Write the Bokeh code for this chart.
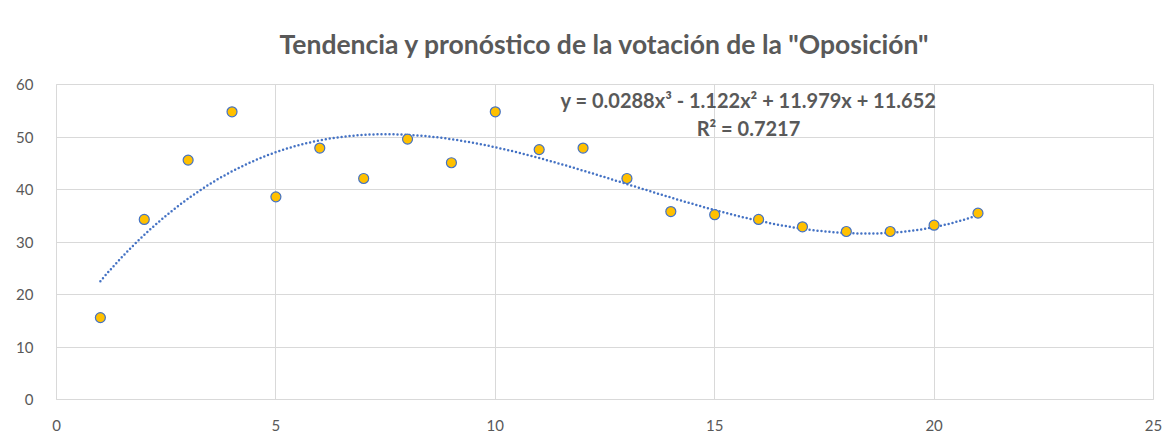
import numpy as np
from bokeh.plotting import figure
from bokeh.models import Range1d, Label, FixedTicker
from bokeh.embed import file_html
from bokeh.resources import INLINE

# ---- data ----
x_vals = [1, 2, 3, 4, 5, 6, 7, 8, 9, 10, 11, 12, 13, 14, 15, 16, 17, 18, 19, 20, 21]
y_vals = [15.6, 34.3, 45.6, 54.8, 38.6, 47.9, 42.1, 49.6, 45.1, 54.8, 47.6,
          47.9, 42.1, 35.8, 35.2, 34.3, 32.9, 32.0, 32.0, 33.2, 35.5]
trend_coef = [0.0288, -1.122, 11.979, 11.652]   # cubic trendline (Excel)
title_text = 'Tendencia y pronóstico de la votación de la "Oposición"'
eq_text = "y = 0.0288x³ - 1.122x² + 11.979x + 11.652"
r2_text = "R² = 0.7217"
x_ticks = [0, 5, 10, 15, 20, 25]
y_ticks = [0, 10, 20, 30, 40, 50, 60]

GRID = "#D9D9D9"
TXT = "#595959"
BLUE = "#4472C4"
GOLD = "#FFC000"
FONT = "Lato"

p = figure(width=1172, height=437, output_backend="svg", toolbar_location=None,
           x_range=Range1d(0, 25), y_range=Range1d(0, 60),
           min_border_left=56, min_border_right=19, min_border_top=84, min_border_bottom=38,
           background_fill_color="white", border_fill_color="white")
p.outline_line_color = GRID

p.title.text = title_text
p.title.align = "center"
p.title.offset = -9
p.title.text_font = FONT
p.title.text_font_size = "26.5px"
p.title.text_font_style = "bold"
p.title.text_color = TXT
p.title.standoff = 50

for ax in (p.xaxis[0], p.yaxis[0]):
    ax.axis_line_color = GRID
    ax.major_tick_line_color = None
    ax.minor_tick_line_color = None
    ax.major_label_text_font = FONT
    ax.major_label_text_font_size = "15px"
    ax.major_label_text_color = TXT
p.xaxis.ticker = FixedTicker(ticks=x_ticks)
p.yaxis.ticker = FixedTicker(ticks=y_ticks)
p.yaxis.major_label_standoff = 17
p.xaxis.major_label_standoff = 14
p.xgrid.grid_line_color = GRID
p.ygrid.grid_line_color = GRID
p.xgrid.ticker = FixedTicker(ticks=x_ticks)
p.ygrid.ticker = FixedTicker(ticks=y_ticks)

# trendline from the cubic fit
xt = np.linspace(min(x_vals), max(x_vals), 300)
yt = np.polyval(trend_coef, xt)
p.line(xt, yt, line_color=BLUE, line_width=2.5, line_dash="0 4", line_cap="round")

p.scatter(x_vals, y_vals, marker="circle", size=10, fill_color=GOLD,
          line_color=BLUE, line_width=1.2)

p.add_layout(Label(x=15.77, y=57.0, text=eq_text, text_align="center", text_baseline="middle",
                   text_font=FONT, text_font_size="20px", text_font_style="bold", text_color=TXT))
p.add_layout(Label(x=15.77, y=51.7, text=r2_text, text_align="center", text_baseline="middle",
                   text_font=FONT, text_font_size="20px", text_font_style="bold", text_color=TXT))

open("out.html", "w").write(file_html(p, INLINE))
